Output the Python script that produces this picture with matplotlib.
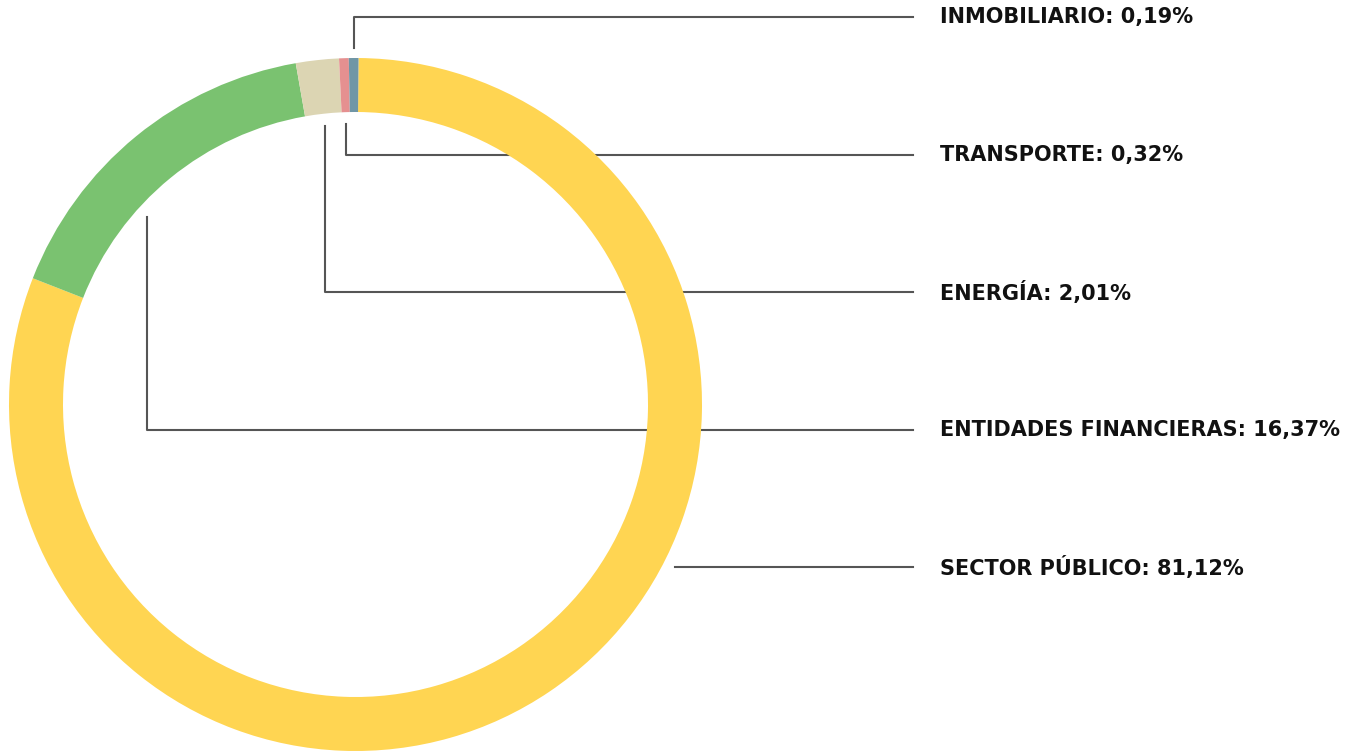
import numpy as np
import matplotlib.pyplot as plt

# datos
sectores = ["SECTOR PÚBLICO", "ENTIDADES FINANCIERAS", "ENERGÍA", "TRANSPORTE", "INMOBILIARIO"]
valores = [81.12, 16.37, 2.01, 0.32, 0.19]
etiquetas = ["81,12%", "16,37%", "2,01%", "0,32%", "0,19%"]
colores = ["#FFD552", "#7AC270", "#DCD5B3", "#E59090", "#7096A6"]

W, H = 1360, 753
fig = plt.figure(figsize=(W / 100, H / 100), dpi=100)
ax = fig.add_axes([0, 0, 1, 1])

cx, cy = 355.5, H - 404.5
R, ancho = 346.5, 54

# tamaño mínimo visible para los sectores muy pequeños
visibles = np.maximum(valores, 0.45)
wedges, _ = ax.pie(visibles, colors=colores, startangle=89.5, counterclock=False,
                   radius=R, center=(cx, cy), frame=True,
                   wedgeprops=dict(width=ancho, linewidth=0))
for w in wedges:
    w.set_zorder(3)
ax.set_xlim(0, W)
ax.set_ylim(0, H)
ax.set_aspect("equal")
ax.axis("off")

# posiciones de etiquetas (de arriba hacia abajo)
y_top, paso = H - 17, 137.5
x_fin, x_txt = 913, 940
lc = "#555555"
frac = [0.5, 0.65, 0.5, 0.5, 0.5]  # punto de anclaje dentro de cada sector

for i, w in enumerate(wedges):
    ly = y_top - paso * (len(wedges) - 1 - i)
    ax.text(x_txt, ly, f"{sectores[i]}: {etiquetas[i]}", fontsize=15,
            fontweight="bold", family="DejaVu Sans", color="#111111", va="center", ha="left")
    if i == 0:
        dy = ly - cy
        x0 = cx + np.sqrt(R ** 2 - dy ** 2) + 13
        ax.plot([x0, x_fin], [ly, ly], color=lc, lw=1.5, zorder=1)
        continue
    th = np.deg2rad(w.theta1 + (w.theta2 - w.theta1) * frac[i])
    if ly > cy + R:
        r = R + 10
    else:
        r = R - ancho - 12
    ax0, ay0 = cx + r * np.cos(th), cy + r * np.sin(th)
    ax.plot([ax0, ax0, x_fin], [ay0, ly, ly], color=lc, lw=1.5, zorder=1)

fig.savefig("out.png", dpi=100)
